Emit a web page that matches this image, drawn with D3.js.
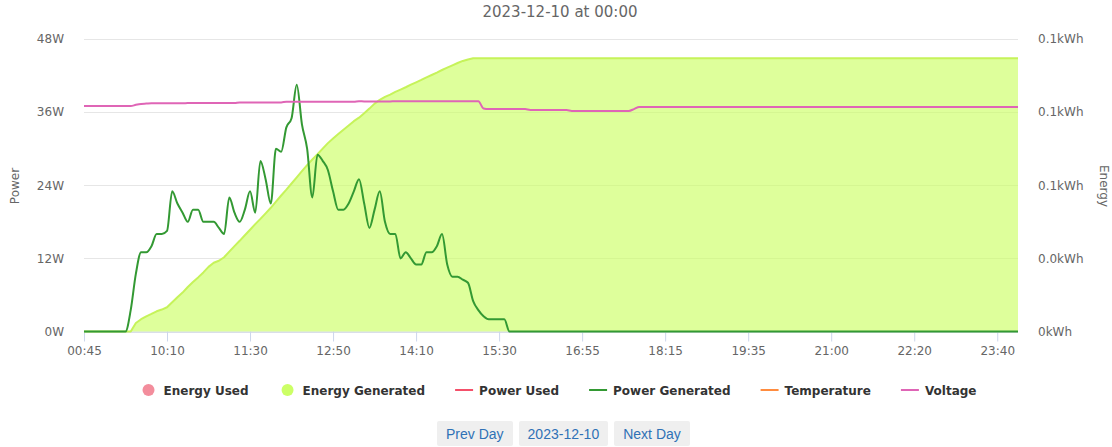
<!DOCTYPE html>
<html>
<head>
<meta charset="utf-8">
<script src="https://cdn.jsdelivr.net/npm/d3@7"></script>
<style>
  body { margin: 0; background: #fff; }
  #wrap { position: relative; width: 1112px; height: 447px; }
  #nav { position: absolute; top: 421px; left: 437px; display: flex; gap: 6px; }
  #nav button {
    font: 14px "Liberation Sans", Arial, sans-serif; color: #2f72b6;
    background: #efefef; border: none; border-radius: 2px;
    height: 25px; padding: 0 9px; cursor: pointer;
  }
</style>
</head>
<body>
<div id="wrap">
  <div id="chart"></div>
  <div id="nav"><button>Prev Day</button><button>2023-12-10</button><button>Next Day</button></div>
</div>
<script>
// category labels (one per reading)
var times = [
  "00:45",
  "08:55","09:00","09:05","09:10","09:15","09:20","09:25","09:30","09:35","09:40","09:45","09:50","09:55","10:00","10:05",
  "10:10","10:15","10:20","10:25","10:30","10:35","10:40","10:45","10:50","10:55",
  "11:00","11:05","11:10","11:15","11:20","11:25","11:30","11:35","11:40","11:45","11:50","11:55",
  "12:00","12:05","12:10","12:15","12:20","12:25","12:30","12:35","12:40","12:45","12:50","12:55",
  "13:00","13:05","13:10","13:15","13:20","13:25","13:30","13:35","13:40","13:45","13:50","13:55",
  "14:00","14:05","14:10","14:15","14:20","14:25","14:30","14:35","14:40","14:45","14:50","14:55",
  "15:00","15:05","15:10","15:15","15:20","15:25","15:30",
  "15:35","15:40","15:45","15:50","15:55","16:00","16:05","16:15","16:20","16:25","16:30","16:35","16:40","16:45","16:50","16:55",
  "17:00","17:05","17:10","17:15","17:20","17:25","17:30","17:35","17:40","17:45","17:50","17:55","18:00","18:05","18:10","18:15",
  "18:20","18:25","18:30","18:35","18:40","18:45","18:50","18:55","19:00","19:05","19:10","19:15","19:20","19:25","19:30","19:35",
  "19:40","19:45","19:50","19:55","20:00","20:05","20:10","20:15","20:25","20:30","20:35","20:40","20:45","20:50","20:55","21:00",
  "21:05","21:10","21:15","21:20","21:25","21:30","21:35","21:40","21:45","21:50","21:55","22:00","22:05","22:10","22:15","22:20",
  "22:25","22:30","22:35","22:40","22:45","22:50","22:55","23:00","23:05","23:10","23:15","23:20","23:25","23:30","23:35","23:40",
  "23:45","23:50","23:55","23:59"
];

// Power Generated (W)
var powerGenerated = [
  0,0,0,0,0,0,0,0,0,
  3.5,9.5,13,13,14,16,16,16.5,23,21,
  19.5,18,20,20,18,18,18,17,16,22,
  19.5,18,20,23,19.5,28,25,21,30,29.5,
  33.5,35,40.5,34,30,22,29,28,26.5,23,
  20,20,21,23,25,21,17,20,23,18,
  16,16,12,13,12,11,11,13,13,14,
  16,11,9,9,8.5,8,5,3.5,2.5,2,
  2,2,2,
  0,0,0,0,0,0,0,0,0,0,0,
  0,0,0,0,0,0,0,0,0,0,0,
  0,0,0,0,0,0,0,0,0,0,0,
  0,0,0,0,0,0,0,0,0,0,0,
  0,0,0,0,0,0,0,0,0,0,0,
  0,0,0,0,0,0,0,0,0,0,0,
  0,0,0,0,0,0,0,0,0,0,0,
  0,0,0,0,0,0,0,0,0,0,0,
  0,0,0,0,0,0,0,0,0,0,0
];

// Energy Generated (Wh, cumulative)
var energyGenerated = [
  0,0,0,0,0,0,0,0,0,0,
  2.9,4.2,5.2,6.0,6.9,7.5,8.3,10.0,11.7,13.3,
  15.2,16.9,18.5,20.2,22.1,23.5,24.2,25.4,27.3,29.2,
  31.0,32.9,34.8,36.7,38.5,40.4,42.3,44.4,46.5,48.5,
  50.6,52.7,54.8,56.9,58.8,60.6,62.5,64.4,66.0,67.5,
  69.0,70.4,71.9,73.1,74.6,76.2,77.9,79.2,80.2,81.0,
  81.9,82.7,83.5,84.4,85.2,86.0,86.9,87.7,88.5,89.4,
  90.2,91.0,91.8,92.5,93.0,93.4,
  93.4,93.4,93.4,93.4,93.4,93.4,93.4,93.4,93.4,93.4,93.4,93.4,93.4,93.4,93.4,
  93.4,93.4,93.4,93.4,93.4,93.4,93.4,93.4,93.4,93.4,93.4,93.4,93.4,93.4,93.4,
  93.4,93.4,93.4,93.4,93.4,93.4,93.4,93.4,93.4,93.4,93.4,93.4,93.4,93.4,93.4,
  93.4,93.4,93.4,93.4,93.4,93.4,93.4,93.4,93.4,93.4,93.4,93.4,93.4,93.4,93.4,
  93.4,93.4,93.4,93.4,93.4,93.4,93.4,93.4,93.4,93.4,93.4,93.4,93.4,93.4,93.4,
  93.4,93.4,93.4,93.4,93.4,93.4,93.4,93.4,93.4,93.4,93.4,93.4,93.4,93.4,93.4,
  93.4,93.4,93.4,93.4,93.4,93.4,93.4,93.4,93.4,93.4,93.4,93.4,93.4,93.4,93.4
];

// Voltage (drawn against the power scale)
var voltage = [
  37.0,37.0,37.0,37.0,37.0,37.0,37.0,37.0,37.0,37.0,
  37.2,37.35,37.4,
  37.45,37.45,37.45,37.45,37.45,37.45,37.45,
  37.5,37.5,37.5,37.5,37.5,37.5,37.5,37.5,37.5,37.5,
  37.6,37.6,37.6,37.6,37.6,37.6,37.6,37.6,37.6,
  37.7,37.7,37.7,37.7,37.7,37.7,37.7,37.7,37.7,37.7,37.7,37.7,37.7,37.7,
  37.8,
  37.75,37.75,37.75,37.75,37.75,37.75,
  37.8,37.8,37.8,37.8,37.8,37.8,37.8,37.8,37.8,37.8,37.8,37.8,37.8,37.8,37.8,37.8,37.8,
  36.6,
  36.5,36.5,36.5,36.5,36.5,36.5,36.5,36.5,
  36.35,36.35,36.35,36.35,36.35,36.35,36.35,36.35,
  36.2,36.2,36.2,36.2,36.2,36.2,36.2,36.2,36.2,36.2,36.2,36.2,
  36.5,
  36.85,36.85,36.85,36.85,36.85,36.85,36.85,36.85,36.85,36.85,
  36.85,36.85,36.85,36.85,36.85,36.85,36.85,36.85,36.85,36.85,
  36.85,36.85,36.85,36.85,36.85,36.85,36.85,36.85,36.85,36.85,
  36.85,36.85,36.85,36.85,36.85,36.85,36.85,36.85,36.85,36.85,
  36.85,36.85,36.85,36.85,36.85,36.85,36.85,36.85,36.85,36.85,
  36.85,36.85,36.85,36.85,36.85,36.85,36.85,36.85,36.85,36.85,
  36.85,36.85,36.85,36.85,36.85,36.85,36.85,36.85,36.85,36.85,
  36.85,36.85,36.85,36.85
];

var powerTicks = [0, 12, 24, 36, 48];
var energyTicks = [0, 25, 50, 75, 100]; // Wh
var xTickEvery = 16;

var legendItems = [
  { name: "Energy Used", color: "#f38d9c", symbol: "circle" },
  { name: "Energy Generated", color: "#ccff66", symbol: "circle" },
  { name: "Power Used", color: "#f4506a", symbol: "line" },
  { name: "Power Generated", color: "#339933", symbol: "line" },
  { name: "Temperature", color: "#ff8c3f", symbol: "line" },
  { name: "Voltage", color: "#df65b6", symbol: "line" }
];

var chartW = 1112, chartH = 447;
var plotLeft = 84, plotRight = 1018, plotTop = 39, plotBottom = 331.5;
var font = "'DejaVu Sans', Verdana, sans-serif";

var svg = d3.select("#chart").append("svg")
  .attr("width", chartW)
  .attr("height", chartH)
  .style("position", "absolute")
  .style("left", 0).style("top", 0)
  .style("font-family", font);

var x = d3.scalePoint().domain(times).range([plotLeft, plotRight]);
var yPower = d3.scaleLinear().domain([0, 48]).range([plotBottom, plotTop]);
var yEnergy = d3.scaleLinear().domain([0, 100]).range([plotBottom, plotTop]);

// title
svg.append("text")
  .attr("x", 560).attr("y", 17)
  .attr("text-anchor", "middle")
  .style("font-size", "15px").style("fill", "#666")
  .text("2023-12-10 at 00:00");

// grid
svg.append("g").selectAll("line")
  .data(powerTicks)
  .enter().append("line")
  .attr("x1", plotLeft).attr("x2", plotRight)
  .attr("y1", d => Math.round(yPower(d)) + 0.5)
  .attr("y2", d => Math.round(yPower(d)) + 0.5)
  .style("stroke", "#e6e6e6");

// left axis
var gy = svg.append("g")
  .attr("transform", "translate(" + plotLeft + ",0)")
  .call(d3.axisLeft(yPower).tickValues(powerTicks).tickFormat(d => d + "W").tickSize(0).tickPadding(20));
gy.select(".domain").remove();
gy.selectAll("text").style("font-size", "12px").style("fill", "#666").style("font-family", font);

// right axis
var gy2 = svg.append("g")
  .attr("transform", "translate(" + plotRight + ",0)")
  .call(d3.axisRight(yEnergy).tickValues(energyTicks)
    .tickFormat(d => (d === 0 ? "0" : (d / 1000).toFixed(1)) + "kWh").tickSize(0).tickPadding(20));
gy2.select(".domain").remove();
gy2.selectAll("text").style("font-size", "12px").style("fill", "#666").style("font-family", font);

// axis titles
svg.append("text")
  .attr("transform", "translate(19,186) rotate(-90)")
  .attr("text-anchor", "middle")
  .style("font-size", "12px").style("fill", "#666")
  .text("Power");
svg.append("text")
  .attr("transform", "translate(1100,186) rotate(90)")
  .attr("text-anchor", "middle")
  .style("font-size", "12px").style("fill", "#666")
  .text("Energy");

// x axis
var gx = svg.append("g")
  .attr("transform", "translate(0," + plotBottom + ")")
  .call(d3.axisBottom(x).tickValues(times.filter((d, i) => i % xTickEvery === 0)).tickSize(10).tickPadding(5));
gx.select(".domain").style("stroke", "#ccd6eb").attr("d", "M" + plotLeft + ",0.5H" + plotRight);
gx.selectAll(".tick line").style("stroke", "#ccd6eb");
gx.selectAll("text").style("font-size", "12px").style("fill", "#666").style("font-family", font);

// energy generated area
var area = d3.area()
  .x((d, i) => x(times[i]))
  .y0(plotBottom)
  .y1(d => yEnergy(d));
svg.append("path")
  .datum(energyGenerated)
  .attr("d", area)
  .style("fill", "#ccff66")
  .style("fill-opacity", 0.65);
svg.append("path")
  .datum(energyGenerated)
  .attr("d", d3.line().x((d, i) => x(times[i])).y(d => yEnergy(d)))
  .style("fill", "none")
  .style("stroke", "#c6f35a")
  .style("stroke-width", 2)
  .style("stroke-linejoin", "round");

// power generated
svg.append("path")
  .datum(powerGenerated)
  .attr("d", d3.line().x((d, i) => x(times[i])).y(d => yPower(d)).curve(d3.curveMonotoneX))
  .style("fill", "none")
  .style("stroke", "#339933")
  .style("stroke-width", 2)
  .style("stroke-linejoin", "round");

// voltage
svg.append("path")
  .datum(voltage)
  .attr("d", d3.line().x((d, i) => x(times[i])).y(d => yPower(d)).curve(d3.curveMonotoneX))
  .style("fill", "none")
  .style("stroke", "#df65b6")
  .style("stroke-width", 2);

// legend
var legend = svg.append("g");
var legendY = 390;
var items = legend.selectAll("g")
  .data(legendItems)
  .enter().append("g");
items.append("text")
  .attr("x", 24)
  .attr("y", legendY + 4.5)
  .style("font-size", "12px").style("font-weight", "bold").style("fill", "#333")
  .text(d => d.name);
items.filter(d => d.symbol === "circle").append("circle")
  .attr("cx", 9).attr("cy", legendY).attr("r", 6)
  .style("fill", d => d.color);
items.filter(d => d.symbol === "line").append("line")
  .attr("x1", 0).attr("x2", 18)
  .attr("y1", legendY).attr("y2", legendY)
  .style("stroke", d => d.color).style("stroke-width", 2);

var gap = 30;
var widths = [];
items.each(function() {
  widths.push(24 + d3.select(this).select("text").node().getComputedTextLength());
});
var total = d3.sum(widths) + gap * (widths.length - 1);
var pos = 558 - total / 2;
items.attr("transform", function(d, i) {
  var t = "translate(" + pos + ",0)";
  pos += widths[i] + gap;
  return t;
});
</script>
</body>
</html>
